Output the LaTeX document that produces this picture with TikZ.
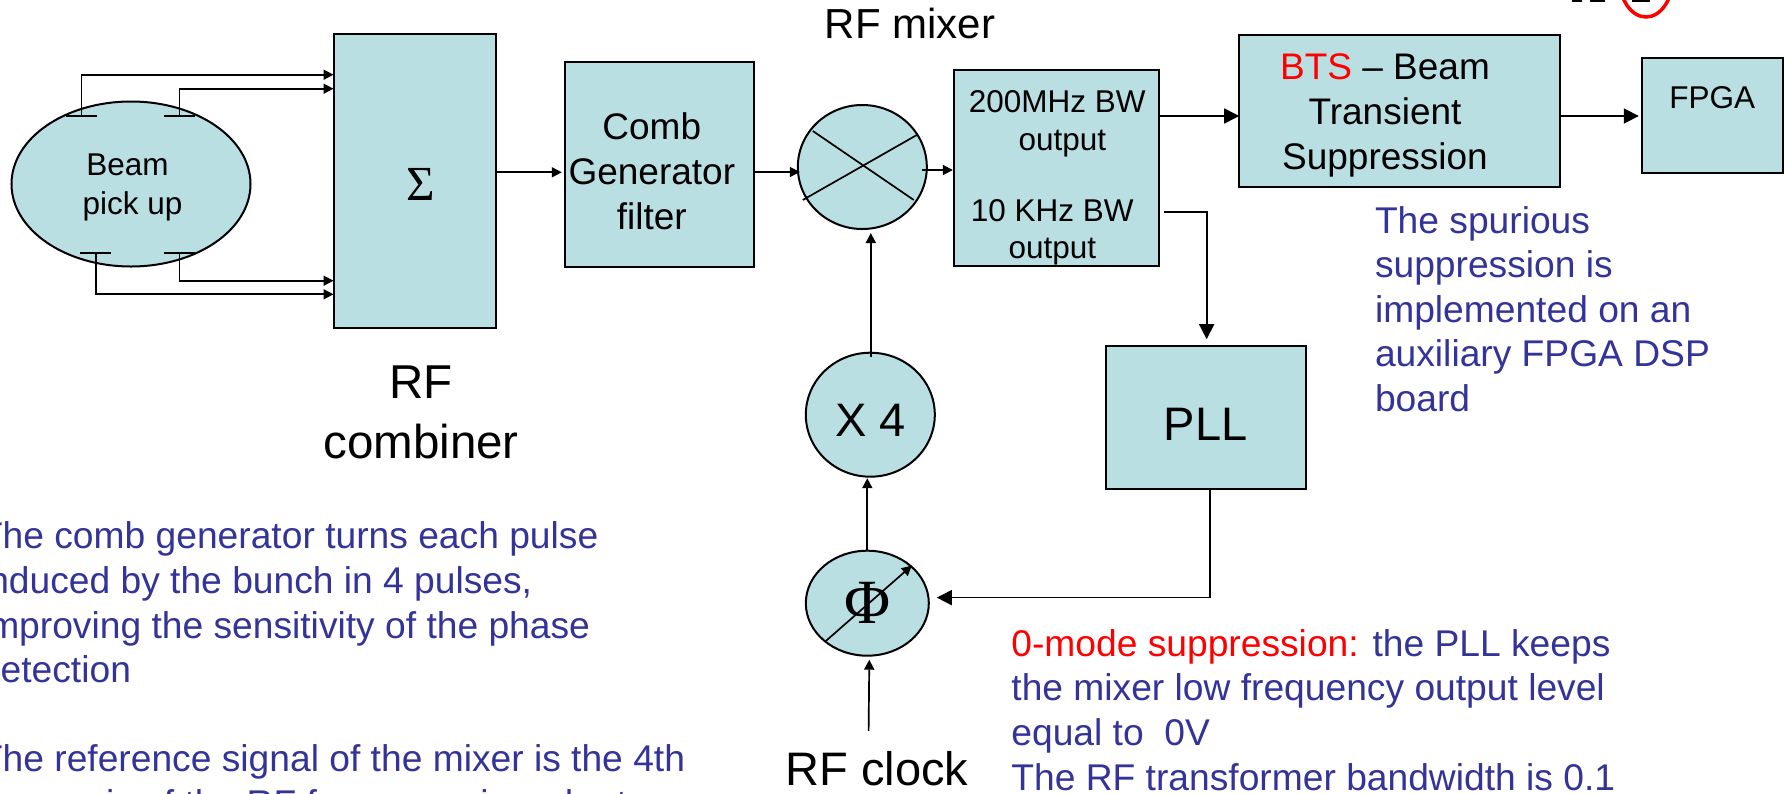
\documentclass[tikz,border=0pt]{standalone}
\usepackage{fontspec}
\setmainfont{Liberation Sans}
\newfontfamily\greekfont{Liberation Serif}
\usepackage{xcolor}
\usetikzlibrary{arrows.meta,positioning,shapes.geometric}
\definecolor{boxfill}{HTML}{B9DFE3}
\definecolor{noteblue}{HTML}{333399}

\begin{document}
\begin{tikzpicture}[
    x=1pt, y=-1pt,
    box/.style={draw, line width=2pt, fill=boxfill, outer sep=0pt, inner sep=0pt, align=center},
    round/.style={box, ellipse},
    lbl/.style={inner sep=0pt, outer sep=0pt, align=center, anchor=base, font=\fontsize{37}{45}\selectfont},
    note/.style={lbl, align=left, anchor=base west, text=noteblue, font=\fontsize{37.2}{44.6}\selectfont},
    wire/.style={line width=1.7pt},
    arrow/.style={wire, -{Triangle[length=10pt, width=10pt]}},
    bigarrow/.style={wire, -{Triangle[length=15pt, width=15pt]}}
]
\useasboundingbox (0,0) rectangle (1790,793);
\clip (0,0) rectangle (1790,793);

\node[round, minimum width=239pt, minimum height=165pt] (pickup) at (131,184) {};
\node[box, minimum width=162.7pt, minimum height=294pt, right=83pt of pickup, yshift=3.5pt] (combiner) {};
\node[box, minimum width=189pt, minimum height=205pt, right=68.6pt of combiner, yshift=16pt] (comb) {};
\node[round, minimum width=129pt, minimum height=124pt, right=44pt of comb, yshift=-2.5pt] (mixer) {};
\node[box, minimum width=205pt, minimum height=196pt, right=27pt of mixer, yshift=-1pt] (output) {};
\node[box, minimum width=320.6pt, minimum height=152pt, right=80.4pt of output, yshift=57pt] (bts) {};
\node[box, minimum width=141pt, minimum height=115pt, right=82pt of bts, yshift=-4.5pt, font=\fontsize{31.5}{38}\selectfont, text depth=37pt] (fpga) {FPGA};
\node[round, minimum width=129pt, minimum height=124pt, below=123.7pt of mixer, xshift=8pt, font=\fontsize{47}{56}\selectfont, text height=44pt] (xfour) {X 4};
\node[round, minimum width=123pt, minimum height=105pt, below=74pt of xfour, xshift=-3pt, font=\greekfont\fontsize{63}{70}\selectfont] (phase) {Φ};
\node[box, minimum width=199.7pt, minimum height=143pt, right=171pt of xfour, yshift=-3pt, font=\fontsize{47}{56}\selectfont, text height=45pt] (pll) {PLL};

\node[lbl, font=\fontsize{31.5}{38.5}\selectfont] (pickuptext) at ([shift={(1.5pt,-30pt)}]pickup.center) {Beam\hspace*{10pt}\\pick up};
\node[lbl, font=\greekfont\fontsize{49}{56}\selectfont] (sigma) at ([shift={(5.5pt,-19.5pt)}]combiner.center) {Σ};
\node[lbl] (combtext) at ([shift={(-7.5pt,-64.5pt)}]comb.center) {Comb\\Generator\\filter};
\node[lbl, font=\fontsize{31.5}{38}\selectfont] (outhigh) at ([shift={(1pt,18pt)}]output.center) {200MHz BW\\\hspace*{10pt}output};
\node[lbl, font=\fontsize{31.5}{37}\selectfont] (outlow) at ([shift={(-4pt,-90pt)}]output.center) {10 KHz BW\\output};
\node[lbl] (btstext) at ([shift={(-14.5pt,-58pt)}]bts.center) {\textcolor{red}{BTS} -- Beam\\Transient\\Suppression};
\node[lbl, font=\fontsize{42}{50}\selectfont] (mixerlabel) at (910,38) {RF mixer};
\node[lbl, font=\fontsize{47.5}{60}\selectfont] (combinerlabel) at (421,458) {RF\\combiner};
\node[lbl, font=\fontsize{47}{56}\selectfont] (clocklabel) at (877,785) {RF clock};

\node[note] (spurnote) at (1375,411.5) {The spurious\\suppression is\\implemented on an\\auxiliary FPGA DSP\\board};
\node[note] (combnote) at (-20,682.7) {The comb generator turns each pulse\\induced by the bunch in 4 pulses,\\improving the sensitivity of the phase\\detection};
\node[note] (refnote) at (-20,816.3) {The reference signal of the mixer is the 4th\\harmonic of the RF frequency in order to};
\node[note] (modenote) at (1011.4,790) {\textcolor{red}{0-mode suppression:} the PLL keeps\\the mixer low frequency output level\\equal to\ \ 0V\\The RF transformer bandwidth is 0.1};

\coordinate (pua) at ([shift={(-49.5pt,68pt)}]pickup.center);
\coordinate (pub) at ([shift={(48.5pt,68pt)}]pickup.center);
\coordinate (puc) at ([shift={(-35.3pt,-68.7pt)}]pickup.center);
\coordinate (pud) at ([shift={(48.5pt,-68.7pt)}]pickup.center);
\foreach \pu in {pua,pub,puc,pud}
    \draw[wire] ([xshift=-15.5pt]\pu) -- ([xshift=15.5pt]\pu);

\draw[arrow] (pua) |- ([yshift=105.8pt]combiner.west);
\draw[arrow] (pub) |- ([yshift=91.8pt]combiner.west);
\draw[arrow] (pud) |- ([yshift=-100.2pt]combiner.west);
\draw[arrow] (puc) |- ([yshift=-113.8pt]combiner.west);
\draw[arrow, shorten >=3pt] ([yshift=8.2pt]combiner.east) -- ([yshift=-7.8pt]comb.west);
\draw[arrow] ([yshift=-7.5pt]comb.east) -- ([xshift=2pt, yshift=-5pt]mixer.west);
\draw[arrow] ([xshift=-5pt, yshift=-3pt]mixer.east) -- ([xshift=-1pt, yshift=-2pt]output.west);
\draw[bigarrow] ([yshift=52pt]output.east) -- ([yshift=-5pt]bts.west);
\draw[bigarrow, shorten >=3pt] ([yshift=-5pt]bts.east) -- ([yshift=-0.5pt]fpga.west);
\draw[bigarrow] ([xshift=5pt, yshift=-44pt]output.east) -| ([xshift=1pt, yshift=7pt]pll.north);
\draw[bigarrow] ([xshift=4.6pt]pll.south) |- ([xshift=8pt, yshift=5.6pt]phase.east);
\draw[arrow] (phase.north) -- ([xshift=-3pt, yshift=-1.5pt]xfour.south);
\draw[arrow] ([xshift=0.5pt, yshift=-4pt]xfour.north) -- ([xshift=8.5pt, yshift=-4pt]mixer.south);
\draw[arrow] ([xshift=-8.4pt, yshift=20pt]clocklabel.north) -- ([xshift=2pt, yshift=-4pt]phase.south);

\draw[wire] ([shift={(-49.5pt,36pt)}]mixer.center) -- ([shift={(51.5pt,-33pt)}]mixer.center);
\draw[wire] ([shift={(-59.5pt,-33pt)}]mixer.center) -- ([shift={(54.5pt,32pt)}]mixer.center);
\draw[arrow] ([shift={(-42.5pt,-38.7pt)}]phase.center) -- ([shift={(44.5pt,37.6pt)}]phase.center);

\draw[red, line width=3.5pt] (1646,-23) ellipse [x radius=27, y radius=40];
\draw[line width=2pt] (1572,0.5) -- (1582,0.5) (1590,0.5) -- (1605,0.5) (1632,0.5) -- (1650,0.5);
\end{tikzpicture}
\end{document}
